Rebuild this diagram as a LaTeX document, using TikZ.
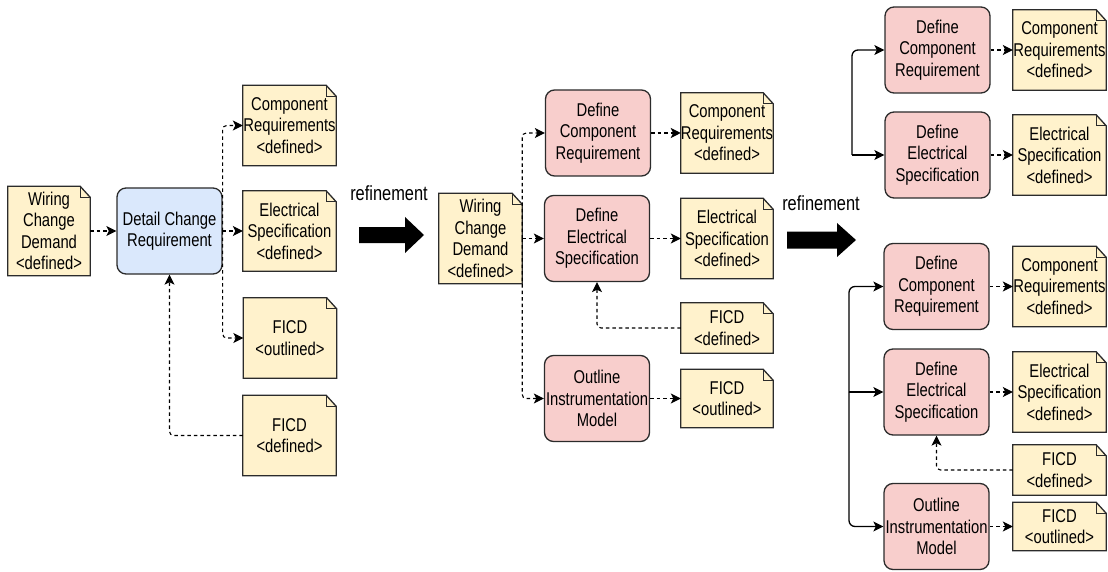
\documentclass[tikz,border=0pt]{standalone}
\usepackage{fontspec}
\setmainfont{Liberation Sans}[FakeStretch=0.8]
\usetikzlibrary{arrows.meta,backgrounds}
\definecolor{docfill}{HTML}{FFF2CC}
\definecolor{taskfill}{HTML}{F8CECC}
\definecolor{detailfill}{HTML}{DAE8FC}
\definecolor{boxline}{HTML}{2B2B2B}

\tikzset{
  doc/.style={rectangle, inner sep=0pt, align=center,
              minimum width=93pt, minimum height=80pt},
  task/.style={draw=boxline, fill=taskfill, rectangle, rounded corners=9pt,
               line width=1.3pt, inner sep=0pt, align=center,
               minimum width=105pt, minimum height=86pt},
  flow/.style={-{Stealth[length=10pt,width=10pt,inset=2.5pt]}, line width=1.1pt,
               dash pattern=on 3.5pt off 3pt, rounded corners=4pt},
  link/.style={-{Stealth[length=10pt,width=10pt,inset=2.5pt]}, line width=1.3pt,
               rounded corners=6pt}}

\begin{document}
\begin{tikzpicture}
[x=1pt, y=-1pt, font=\fontsize{18.5}{21.5}\selectfont,
 reflabel/.style={font=\fontsize{20.5}{24}\selectfont}]
\useasboundingbox (0,0) rectangle (1108,572);

% before
\node (wcdA) at (49,231) [doc, minimum width=82, minimum height=89] {Wiring\\Change\\Demand\\<defined>};
\node (dcrA) at (169.5,231) [task, fill=detailfill] {Detail Change\\Requirement};
\node (crA) at (289.5,125.5) [doc] {Component\\Requirements\\<defined>};
\node (esA) at (289.5,231) [doc] {Electrical\\Specification\\<defined>};
\node (foA) at (290,338) [doc] {FICD\\<outlined>};
\node (fdA) at (289.5,435.5) [doc] {FICD\\<defined>};
\draw [flow] (wcdA) -- (dcrA);
\draw [flow] (dcrA) -- (esA);
\draw [flow] (dcrA.east) |- (crA);
\draw [flow] (dcrA.east) |- (foA);
\draw [flow] (fdA) -| (dcrA);

% first refinement
\node (refA) at (389,193) [reflabel] {refinement};
\fill (359,227) -- (405,227) -- (405,217) -- (424,235) -- (405,253) -- (405,243) -- (359,243) -- cycle;

\node (wcdB) at (480.5,238.5) [doc, minimum width=83, minimum height=90] {Wiring\\Change\\Demand\\<defined>};
\node (dcrB) at (598,133) [task] {Define\\Component\\Requirement};
\node (desB) at (597,238.5) [task] {Define\\Electrical\\Specification};
\node (oimB) at (597,398.5) [task] {Outline\\Instrumentation\\Model};
\node (crB) at (727,133) [doc, minimum width=92] {Component\\Requirements\\<defined>};
\node (esB) at (727,238.5) [doc, minimum width=92] {Electrical\\Specification\\<defined>};
\node (fdB) at (727,328) [doc, minimum width=92, minimum height=50] {FICD\\<defined>};
\node (foB) at (727,398.5) [doc, minimum width=92, minimum height=58] {FICD\\<outlined>};
\draw [flow] (wcdB) -- (desB);
\draw [flow] (wcdB.east) |- (dcrB);
\draw [flow] (wcdB.east) |- (oimB);
\draw [flow] (dcrB) -- (crB);
\draw [flow] (desB) -- (esB);
\draw [flow] (oimB) -- (foB);
\draw [flow] (fdB) -| (desB);

% second refinement
\node (refB) at (821,203) [reflabel] {refinement};
\fill (787,231.5) -- (837,231.5) -- (837,223) -- (856,240) -- (837,257) -- (837,248.5) -- (787,248.5) -- cycle;

\coordinate (srcC) at (852,155);
\node (dcrC) at (937.5,50) [task] {Define\\Component\\Requirement};
\node (desC) at (937.5,155) [task] {Define\\Electrical\\Specification};
\node (crC) at (1059.5,50) [doc] {Component\\Requirements\\<defined>};
\node (esC) at (1059.5,155) [doc] {Electrical\\Specification\\<defined>};
\draw [link] (srcC) -- (desC);
\draw [link] (srcC) |- (dcrC);
\draw [flow] (dcrC) -- (crC);
\draw [flow] (desC) -- (esC);

\coordinate (srcD) at (849,392);
\node (dcrD) at (936.5,286.5) [task] {Define\\Component\\Requirement};
\node (desD) at (936.5,392) [task] {Define\\Electrical\\Specification};
\node (oimD) at (936.5,526.5) [task] {Outline\\Instrumentation\\Model};
\node (crD) at (1059.5,286.5) [doc] {Component\\Requirements\\<defined>};
\node (esD) at (1059.5,392) [doc] {Electrical\\Specification\\<defined>};
\node (fdD) at (1059.5,470) [doc, minimum height=50] {FICD\\<defined>};
\node (foD) at (1059.5,526.5) [doc, minimum height=48] {FICD\\<outlined>};
\draw [link] (srcD) |- (dcrD);
\draw [link] (srcD) -- (desD);
\draw [link] (srcD) |- (oimD);
\draw [flow] (dcrD) -- (crD);
\draw [flow] (desD) -- (esD);
\draw [flow] (oimD) -- (foD);
\draw [flow] (fdD) -| (desD);

% document shapes with folded corner
\begin{scope}[on background layer]
\foreach \n in {wcdA,crA,esA,foA,fdA,wcdB,crB,esB,fdB,foB,crC,esC,crD,esD,fdD,foD} {
  \filldraw [draw=boxline, fill=docfill, line width=1.3pt]
    (\n.south west) -- (\n.north west) -- ([xshift=-10pt]\n.north east)
    -- ([yshift=-11pt]\n.north east) -- (\n.south east) -- cycle;
  \draw [boxline, line width=1.3pt] ([xshift=-10pt]\n.north east) |- ([yshift=-11pt]\n.north east);
}
\end{scope}
\end{tikzpicture}
\end{document}
